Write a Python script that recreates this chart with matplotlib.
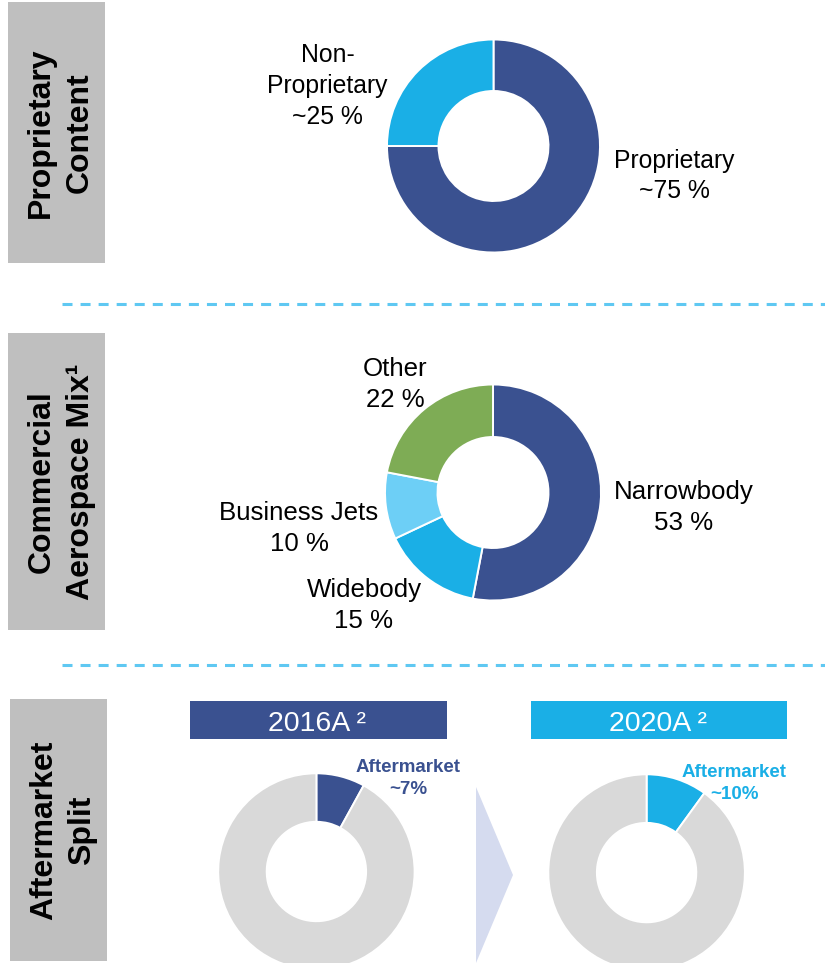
import matplotlib
matplotlib.use('Agg')
import matplotlib.pyplot as plt
from matplotlib.patches import Rectangle, Polygon

plt.rcParams['font.family'] = ['Liberation Sans', 'DejaVu Sans']
plt.rcParams['lines.scale_dashes'] = False

# ---------------- data ----------------
section_titles = [['Proprietary', 'Content'],
                  ['Commercial', 'Aerospace Mix\u00b9'],
                  ['Aftermarket', 'Split']]

prop_labels = ['Proprietary', 'Non-Proprietary']
prop_values = [75, 25]

mix_labels = ['Narrowbody', 'Widebody', 'Business Jets', 'Other']
mix_values = [53, 15, 10, 22]

after_years = ['2016A \u00b2', '2020A \u00b2']
after_values = [8, 10]          # aftermarket share of each year's donut
after_text = ['~7%', '~10%']

# ---------------- styles ----------------
W, H = 825, 963
DARK = '#3A5190'
LIGHT = '#1AAFE6'
PALE = '#6DCFF6'
GREEN = '#7EAC55'
GREY = '#D9D9D9'
BOX = '#BFBFBF'
DASH = '#5FC8F2'

fig = plt.figure(figsize=(W / 100, H / 100), dpi=100)
bg = fig.add_axes([0, 0, 1, 1])
bg.set_xlim(0, W)
bg.set_ylim(H, 0)
bg.axis('off')


def donut(cx, cy, R, r, values, colors):
    ax = fig.add_axes([(cx - R) / W, 1 - (cy + R) / H, 2 * R / W, 2 * R / H])
    ax.pie(values, colors=colors, startangle=90, counterclock=False, radius=1,
           wedgeprops=dict(width=1 - r / R, edgecolor='white', linewidth=1.4))
    ax.set_xlim(-1, 1)
    ax.set_ylim(-1, 1)
    ax.axis('off')
    return ax


# ---------------- grey section boxes ----------------
boxes = [(8, 2, 97, 261), (8, 333, 97, 297), (10, 699, 97, 262)]
title_x = [(48.5, 88), (50, 89), (52, 90.5)]
for (bx, by, bw, bh), (x1, x2), lines in zip(boxes, title_x, section_titles):
    bg.add_patch(Rectangle((bx, by), bw, bh, facecolor=BOX, edgecolor='none'))
    cy = by + bh / 2
    if lines[0] == 'Aftermarket':
        cy = 830
    for x, s in zip((x1, x2), lines):
        bg.text(x, cy, s, rotation=90, rotation_mode='anchor', ha='center',
                va='baseline', fontsize=23, fontweight='bold', color='black')

# ---------------- dashed separators ----------------
for y in (304.5, 665):
    bg.plot([62, W], [y, y], color=DASH, lw=2.2, linestyle=(0, (7.2, 5.8)),
            dash_capstyle='butt')

# ---------------- donut 1: proprietary ----------------
donut(493.5, 146, 106.5, 55, prop_values, [DARK, LIGHT])
fs1 = 17.8
for s, yb in zip(['Non-', 'Proprietary', '~25 %'], [61.7, 93.5, 124.5]):
    bg.text(327.5, yb, s, ha='center', va='baseline', fontsize=fs1)
for s, yb in zip([prop_labels[0], '~75 %'], [168, 198.5]):
    bg.text(674, yb, s, ha='center', va='baseline', fontsize=fs1)

# ---------------- donut 2: aerospace mix ----------------
donut(493, 492.5, 108, 55.5, mix_values, [DARK, LIGHT, PALE, GREEN])
fs2 = 18.6
mix_pos = {'Narrowbody': (684, 498.5), 'Widebody': (364, 596.7),
           'Business Jets': (299, 520), 'Other': (395, 376)}
for lab, val in zip(mix_labels, mix_values):
    x, yb = mix_pos[lab]
    bg.text(x, yb, lab, ha='center', va='baseline', fontsize=fs2)
    bg.text(x, yb + 31, f'{val} %', ha='center', va='baseline', fontsize=fs2)

# ---------------- aftermarket split ----------------
bars = [(190, 701, 257, 38), (531, 701, 256, 38)]
bar_cols = [DARK, LIGHT]
centers = [(316.4, 871.5, 98.2, 49.7), (646.6, 872.6, 98.3, 49.7)]
label_pos = [(408, 771.7, 793.5), (734.5, 776.7, 799.3)]
for (bx, by, bw, bh), col, year, (cx, cy, R, r), v, t, (lx, ly1, ly2) in zip(
        bars, bar_cols, after_years, centers, after_values, after_text, label_pos):
    bg.add_patch(Rectangle((bx, by), bw, bh, facecolor=col, edgecolor='none'))
    bg.text(bx + bw / 2 - 1, 731, year, ha='center', va='baseline',
            fontsize=20.5, color='white')
    donut(cx, cy, R, r, [v, 100 - v], [col, GREY])
    bg.text(lx, ly1, 'Aftermarket', ha='center', va='baseline', fontsize=13.5,
            fontweight='bold', color=col)
    bg.text(lx, ly2, t, ha='center', va='baseline', fontsize=13.5,
            fontweight='bold', color=col)

# chevron arrow between the two years
bg.add_patch(Polygon([(476, 787), (513, 875), (476, 963)], closed=True,
                     facecolor='#D5DBEF', edgecolor='none'))

fig.savefig('out.png', dpi=100)
